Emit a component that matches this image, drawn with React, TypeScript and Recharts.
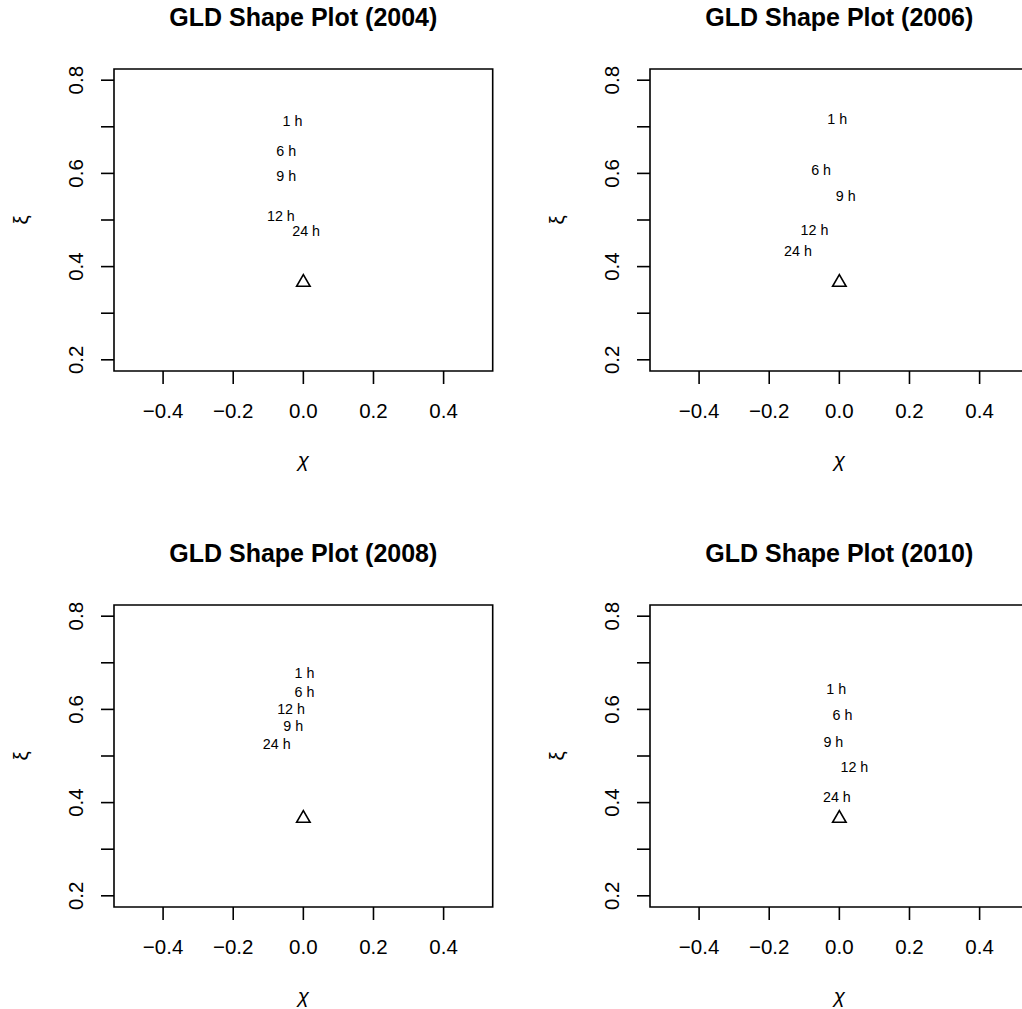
import React from "react";
import { ReferenceArea, Scatter, ScatterChart, XAxis, YAxis } from "recharts";

// horizon labels, same order in every panel
const HORIZONS = ["1 h", "6 h", "9 h", "12 h", "24 h"];
const YEARS = ["2004", "2006", "2008", "2010"];

// (chi, xi) per horizon
const CHI_2004 = [-0.031, -0.049, -0.049, -0.064, 0.008];
const XI_2004 = [0.712, 0.647, 0.595, 0.508, 0.477];
const CHI_2006 = [-0.006, -0.052, 0.018, -0.071, -0.118];
const XI_2006 = [0.716, 0.608, 0.551, 0.479, 0.434];
const CHI_2008 = [0.003, 0.003, -0.029, -0.035, -0.076];
const XI_2008 = [0.678, 0.638, 0.565, 0.6, 0.526];
const CHI_2010 = [-0.009, 0.009, -0.017, 0.043, -0.007];
const XI_2010 = [0.643, 0.588, 0.53, 0.477, 0.412];

// the normal distribution reference point
const NORMAL = [{ chi: 0, xi: 0.3661 }];

const X_TICKS = [-0.4, -0.2, 0, 0.2, 0.4];
const Y_TICKS = [0.2, 0.3, 0.4, 0.5, 0.6, 0.7, 0.8];
const X_DOMAIN: [number, number] = [-0.54, 0.54];
const Y_DOMAIN: [number, number] = [0.176, 0.824];

const CHI = [CHI_2004, CHI_2006, CHI_2008, CHI_2010];
const XI = [XI_2004, XI_2006, XI_2008, XI_2010];

const FONT = '"Liberation Sans", Arial, Helvetica, sans-serif';
const PANEL = 536;
const LW = 1.6;

const fmt = (v: number) => (v < 0 ? "\u2212" : "") + Math.abs(v).toFixed(1);

function XTick(props: any) {
  const { x, y, payload } = props;
  return (
    <text x={x} y={y} textAnchor="middle" dominantBaseline="central" fontSize={20.5} fontFamily={FONT} fill="#000">
      {fmt(payload.value)}
    </text>
  );
}

function YTick(props: any) {
  const { x, y, payload } = props;
  const v = payload.value;
  if (Math.round(v * 10) % 2 !== 0) return <g />;
  return (
    <text
      x={x}
      y={y}
      transform={`rotate(-90 ${x} ${y})`}
      textAnchor="middle"
      dominantBaseline="central"
      fontSize={20.5}
      fontFamily={FONT}
      fill="#000"
    >
      {v.toFixed(1)}
    </text>
  );
}

function LabelShape(props: any) {
  const { cx, cy, payload } = props;
  return (
    <text x={cx} y={cy} textAnchor="middle" dominantBaseline="central" fontSize={14.3} fontFamily={FONT} fill="#000">
      {payload.label}
    </text>
  );
}

function TriangleShape(props: any) {
  const { cx, cy } = props;
  const r = 7.8;
  const hw = (r * Math.sqrt(3)) / 2;
  return (
    <polygon
      points={`${cx},${cy - r} ${cx + hw},${cy + r / 2} ${cx - hw},${cy + r / 2}`}
      fill="none"
      stroke="#000"
      strokeWidth={LW}
    />
  );
}

function Panel({ idx }: { idx: number }) {
  const data = HORIZONS.map((label, i) => ({ label, chi: CHI[idx][i], xi: XI[idx][i] }));
  return (
    <div style={{ position: "relative", width: PANEL, height: PANEL }}>
      <ScatterChart width={PANEL} height={PANEL} margin={{ top: 69, right: 43.3, bottom: 0, left: 0 }}>
        <XAxis
          type="number"
          dataKey="chi"
          domain={X_DOMAIN}
          ticks={X_TICKS}
          allowDataOverflow
          height={165}
          axisLine={false}
          tickSize={13}
          tickMargin={26}
          tickLine={{ stroke: "#000", strokeWidth: LW }}
          tick={<XTick />}
          interval={0}
        />
        <YAxis
          type="number"
          dataKey="xi"
          domain={Y_DOMAIN}
          ticks={Y_TICKS}
          allowDataOverflow
          width={114}
          axisLine={false}
          tickSize={13}
          tickMargin={25}
          tickLine={{ stroke: "#000", strokeWidth: LW }}
          tick={<YTick />}
          interval={0}
        />
        <ReferenceArea
          x1={X_DOMAIN[0]}
          x2={X_DOMAIN[1]}
          y1={Y_DOMAIN[0]}
          y2={Y_DOMAIN[1]}
          fill="none"
          fillOpacity={0}
          stroke="#000"
          strokeWidth={LW}
          ifOverflow="visible"
        />
        <Scatter data={data} shape={<LabelShape />} isAnimationActive={false} />
        <Scatter data={NORMAL} shape={<TriangleShape />} isAnimationActive={false} />
      </ScatterChart>
      <svg
        width={PANEL}
        height={PANEL}
        style={{ position: "absolute", left: 0, top: 0, pointerEvents: "none" }}
      >
        <text x={303.3} y={26} textAnchor="middle" fontSize={25} fontWeight="bold" fontFamily={FONT} fill="#000">
          {`GLD Shape Plot (${YEARS[idx]})`}
        </text>
        <text
          x={303.3}
          y={467}
          textAnchor="middle"
          fontSize={20.5}
          fontStyle="italic"
          fontFamily={FONT}
          fill="#000"
        >
          χ
        </text>
        <text
          x={28}
          y={220}
          transform="rotate(-90 28 220)"
          textAnchor="middle"
          fontSize={20.5}
          fontFamily={FONT}
          fill="#000"
        >
          ξ
        </text>
      </svg>
    </div>
  );
}

export default function App() {
  return (
    <div
      style={{
        position: "fixed",
        left: 0,
        top: 0,
        width: 1022,
        height: 1009,
        overflow: "hidden",
        background: "#fff",
      }}
    >
      {YEARS.map((y, i) => (
        <div
          key={y}
          style={{ position: "absolute", left: (i % 2) * PANEL, top: Math.floor(i / 2) * PANEL }}
        >
          <Panel idx={i} />
        </div>
      ))}
    </div>
  );
}
